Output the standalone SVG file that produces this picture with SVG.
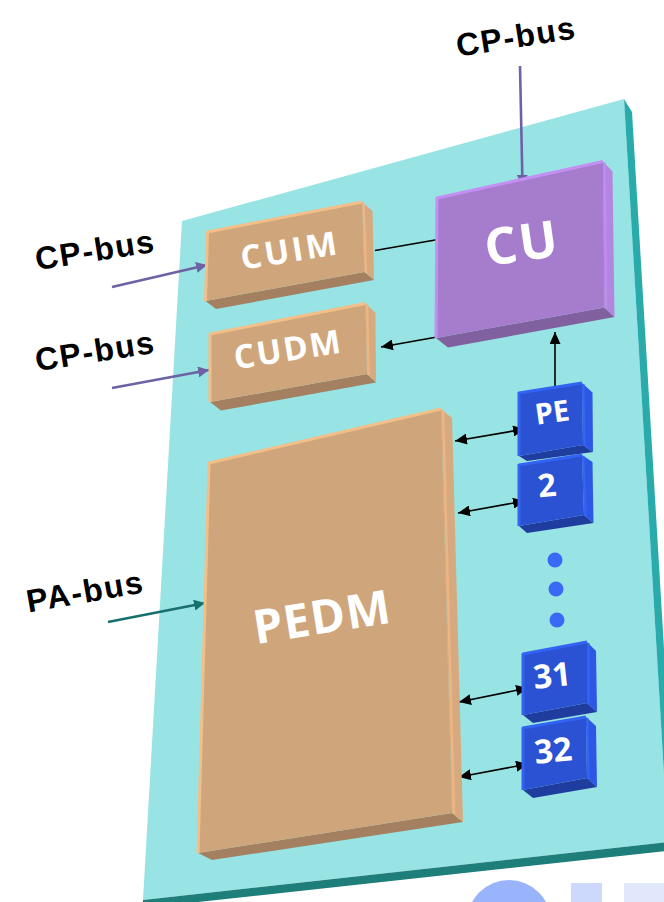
<svg xmlns="http://www.w3.org/2000/svg" width="664" height="902" viewBox="0 0 664 902">
<style>
.t-front{fill:#cfa67b}.t-side{fill:#d6aa7e}.t-bot{fill:#a48060}.t-hl{fill:none;stroke:#f3bf88;stroke-width:3;stroke-linejoin:round}.t-shl{fill:none;stroke:#ebb684;stroke-width:2.5}
.p-front{fill:#a67dcd}.p-side{fill:#b486e0}.p-bot{fill:#80609f}.p-hl{fill:none;stroke:#c390f2;stroke-width:3;stroke-linejoin:round}.p-shl{fill:none;stroke:#c08cf0;stroke-width:2.5}
.b-front{fill:#2a52d3}.b-side{fill:#2d58e6}.b-bot{fill:#1f3d9e}.b-hl{fill:none;stroke:#3363f3;stroke-width:3;stroke-linejoin:round}.b-shl{fill:none;stroke:#3466f5;stroke-width:2}
.lbl{font-family:"Open Sans","DejaVu Sans",sans-serif;font-weight:700;fill:#fff;text-anchor:middle}
.bus-lbl{font-family:"Liberation Sans",Arial,sans-serif;font-weight:700;fill:#000;text-anchor:middle;font-size:32px;letter-spacing:1.5px}
.bus{stroke:#6b63a3;stroke-width:2.6;fill:none}
.pa{stroke:#17706e;stroke-width:2.6;fill:none}
.blk{stroke:#000;stroke-width:1.6;fill:none}
.dot{fill:#3a6af5}
</style>
<defs>
<marker id="ah" viewBox="0 0 12 11" refX="12" refY="5.5" markerWidth="12" markerHeight="11" markerUnits="userSpaceOnUse" orient="auto-start-reverse"><path d="M0,0 L12,5.5 L0,11 Z" fill="#000"/></marker>
<marker id="ap" viewBox="0 0 11 11" refX="11" refY="5.5" markerWidth="11" markerHeight="11" markerUnits="userSpaceOnUse" orient="auto"><path d="M0,0 L11,5.5 L0,11 Z" fill="#6b63a3"/></marker>
<marker id="at" viewBox="0 0 11 11" refX="11" refY="5.5" markerWidth="11" markerHeight="11" markerUnits="userSpaceOnUse" orient="auto"><path d="M0,0 L11,5.5 L0,11 Z" fill="#17706e"/></marker>
</defs>
<rect width="664" height="902" fill="#fff"/>
<g id="backdrop">
<circle cx="509" cy="922" r="42" fill="#9ab4fb"/>
<rect x="571" y="883" width="31" height="30" fill="#ccd9fc"/>
<rect x="624" y="883" width="50" height="30" fill="#e2e8fc"/>
</g>
<g id="board">
<polygon points="182,221 624,99 668,842 143,900" fill="#98e3e3"/>
<polygon points="624,99 632,112 676,850 668,842" fill="#2aabab"/>
<polygon points="143,900 668,842 676,850 143,908" fill="#1e7e7a"/>
</g>
<g id="connectors">
<line class="bus" x1="520" y1="66" x2="522.5" y2="186" marker-end="url(#ap)"/>
<line class="bus" x1="112" y1="287" x2="207" y2="265" marker-end="url(#ap)"/>
<line class="bus" x1="112" y1="388" x2="209" y2="370" marker-end="url(#ap)"/>
<line class="pa" x1="108" y1="622" x2="205" y2="603" marker-end="url(#at)"/>
<line class="blk" x1="375" y1="250.5" x2="438" y2="239.5"/>
<line class="blk" x1="437" y1="337" x2="381" y2="347" marker-end="url(#ah)"/>
<line class="blk" x1="555" y1="394" x2="555" y2="332" marker-end="url(#ah)"/>
<line class="blk" x1="455" y1="441" x2="525" y2="429" marker-start="url(#ah)" marker-end="url(#ah)"/>
<line class="blk" x1="458" y1="513" x2="525" y2="501" marker-start="url(#ah)" marker-end="url(#ah)"/>
<line class="blk" x1="459" y1="702" x2="528" y2="688" marker-start="url(#ah)" marker-end="url(#ah)"/>
<line class="blk" x1="459" y1="777" x2="528" y2="764" marker-start="url(#ah)" marker-end="url(#ah)"/>
<text class="bus-lbl" transform="translate(516,36) rotate(-9)" y="11.5">CP-bus</text>
<text class="bus-lbl" transform="translate(95,249.5) rotate(-9)" y="11.5">CP-bus</text>
<text class="bus-lbl" transform="translate(95,350.5) rotate(-9)" y="11.5">CP-bus</text>
<text class="bus-lbl" transform="translate(85,591) rotate(-10)" y="11.5">PA-bus</text>
</g>
<g id="cuim">
<polygon class="t-bot" points="205.5,301 364.5,272 374,280 216,309"/>
<polygon class="t-side" points="362,202 372.5,211 374,280 364.5,272"/>
<polygon class="t-front" points="207.5,232 362,202 364.5,272 205.5,301"/>
<polyline class="t-hl" points="205.5,301 207.5,232 362,202"/>
<line class="t-shl" x1="363.5" y1="203" x2="366" y2="273"/>
<text class="lbl" font-size="33" letter-spacing="3" transform="translate(290,250) rotate(-9)" y="12">CUIM</text>
</g>
<g id="cudm">
<polygon class="t-bot" points="210,402 367,374 376,382.5 221,410.5"/>
<polygon class="t-side" points="365.5,303.5 375.5,313 376,382.5 367,374"/>
<polygon class="t-front" points="210,334 365.5,303.5 367,374 210,402"/>
<polyline class="t-hl" points="210,402 210,334 365.5,303.5"/>
<line class="t-shl" x1="367" y1="304.5" x2="368.5" y2="375"/>
<text class="lbl" font-size="33" letter-spacing="2" transform="translate(288,349) rotate(-9)" y="12">CUDM</text>
</g>
<g id="cu">
<polygon class="p-bot" points="436,338 604.5,307.5 614.5,317 448,347.5"/>
<polygon class="p-side" points="603,161.5 612.5,171.5 614.5,317 604.5,307.5"/>
<polygon class="p-front" points="437,198 603,161.5 604.5,307.5 436,338"/>
<polyline class="p-hl" points="436,338 437,198 603,161.5"/>
<line class="p-shl" x1="604.5" y1="162.5" x2="606" y2="308.5"/>
<text class="lbl" font-size="51" letter-spacing="2" transform="translate(522,243) rotate(-8)" y="18">CU</text>
</g>
<g id="pedm">
<polygon class="t-bot" points="198,853 452,813 463,822 212,860"/>
<polygon class="t-side" points="441,409 452,418 463,822 452,813"/>
<polygon class="t-front" points="209,463 441,409 452,813 198,853"/>
<polyline class="t-hl" points="198,853 209,463 441,409"/>
<line class="t-shl" x1="443" y1="410" x2="454" y2="814"/>
<text class="lbl" font-size="47" letter-spacing="1" transform="translate(322,617) rotate(-9)" y="16.5">PEDM</text>
</g>
<g id="dots">
<circle class="dot" cx="555" cy="560" r="7.5"/>
<circle class="dot" cx="556" cy="589" r="7.5"/>
<circle class="dot" cx="557" cy="620" r="7.5"/>
</g>
<g id="pe">
<polygon class="b-bot" points="519,456 583,445 593,452 527,461"/>
<polygon class="b-side" points="582,383 592.5,392.5 593,452 583,445"/>
<polygon class="b-front" points="519,393 582,383 583,445 519,456"/>
<polyline class="b-hl" points="519,456 519,393 582,383"/>
<line class="b-shl" x1="583.5" y1="384" x2="584.5" y2="446"/>
<text class="lbl" font-size="29" transform="translate(552,412) rotate(-8)" y="10.5">PE</text>
</g>
<g id="pe2">
<polygon class="b-bot" points="519,526 584,515 593.5,523 527,533"/>
<polygon class="b-side" points="582,455 592.5,462 593.5,523 584,515"/>
<polygon class="b-front" points="519,465 582,455 584,515 519,526"/>
<polyline class="b-hl" points="519,526 519,465 582,455"/>
<line class="b-shl" x1="583.5" y1="456" x2="585.5" y2="516"/>
<text class="lbl" font-size="32" transform="translate(547,485) rotate(-6)" y="11.5">2</text>
</g>
<g id="pe31">
<polygon class="b-bot" points="523,715 587,703 597,712 533,723"/>
<polygon class="b-side" points="587,642 596,651 597,712 587,703"/>
<polygon class="b-front" points="523,654 587,642 587,703 523,715"/>
<polyline class="b-hl" points="523,715 523,654 587,642"/>
<line class="b-shl" x1="588.5" y1="643" x2="588.5" y2="704"/>
<text class="lbl" font-size="33" transform="translate(552,675) rotate(-6)" y="12">31</text>
</g>
<g id="pe32">
<polygon class="b-bot" points="523,790 587,778 597,787 533,798"/>
<polygon class="b-side" points="586,717 596,726 597,787 587,778"/>
<polygon class="b-front" points="523,728 586,717 587,778 523,790"/>
<polyline class="b-hl" points="523,790 523,728 586,717"/>
<line class="b-shl" x1="587.5" y1="718" x2="588.5" y2="779"/>
<text class="lbl" font-size="33" transform="translate(553,750) rotate(-6)" y="12">32</text>
</g>
</svg>
